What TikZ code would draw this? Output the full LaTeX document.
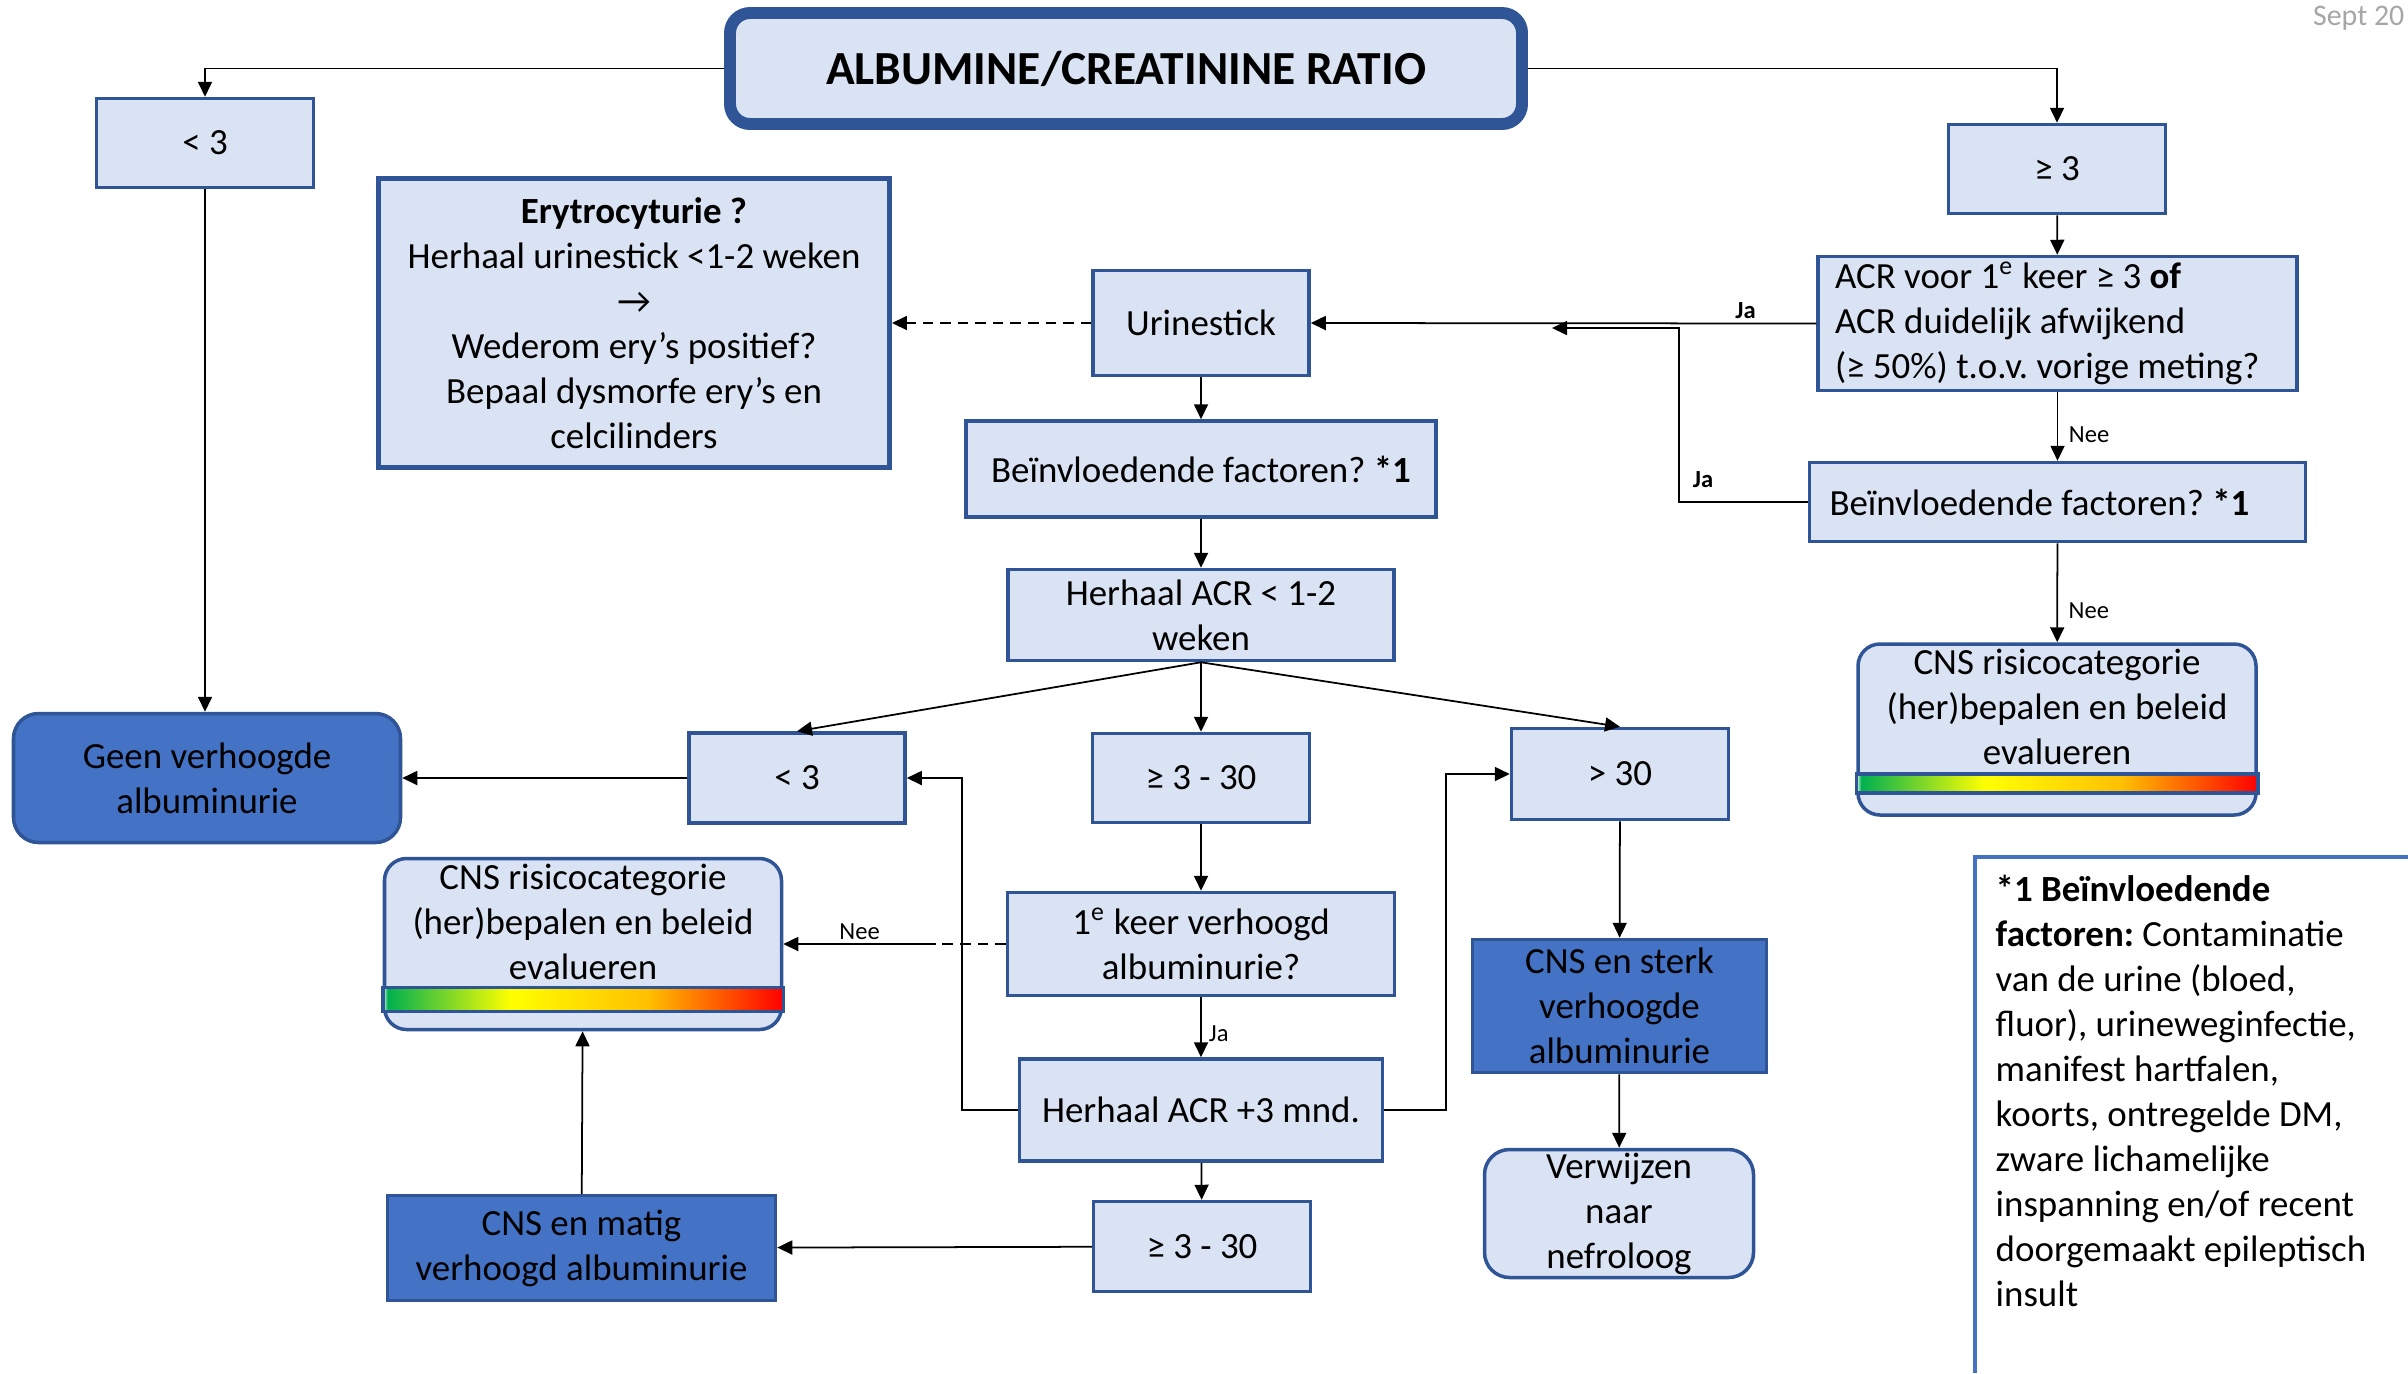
\documentclass[tikz,border=0pt]{standalone}
\usepackage{fontspec}
\setmainfont{Carlito}
\frenchspacing
\usetikzlibrary{arrows.meta,calc}
\definecolor{boxfill}{HTML}{DAE3F3}
\definecolor{boxline}{HTML}{2F5597}
\definecolor{darkfill}{HTML}{4472C4}
\definecolor{legline}{HTML}{4472C4}
\definecolor{datagrey}{HTML}{A6A6A6}
\definecolor{riskgreen}{HTML}{00B050}
\definecolor{riskorange}{HTML}{FFC000}
\pgfdeclarehorizontalshading{riskbar}{100bp}{color(0bp)=(white); color(25bp)=(white); color(25.6bp)=(riskgreen); color(41bp)=(yellow); color(58bp)=(riskorange); color(75bp)=(red); color(100bp)=(red)}

\begin{document}
\begin{tikzpicture}[
	box/.style={shape=rectangle, draw=boxline, fill=boxfill, line width=1pt, inner sep=0pt, align=center, font=\fontsize{10.5}{12.8}\selectfont},
	rbox/.style={box, rounded corners=0.22cm},
	dbox/.style={box, fill=darkfill},
	txt/.style={inner sep=0pt, align=center, font=\fontsize{10.5}{12.8}\selectfont},
	arr/.style={-{Triangle[length=1.5mm,width=1.4mm]}, line width=0.5pt},
	lbl/.style={inner sep=1pt, font=\fontsize{7}{8}\selectfont},
	lblb/.style={inner sep=1pt, font=\fontsize{7}{8}\selectfont\bfseries},
	bar/.style={shading=riskbar, draw=boxline, line width=1pt}
	]
	\useasboundingbox (0,0) rectangle (24.08,-13.73);

	\node[box, line width=3.4pt, rounded corners=0.2cm, minimum width=7.92cm, minimum height=1.11cm, font=\fontsize{13.5}{16}\selectfont\bfseries] (title) at (11.26,-0.685) {ALBUMINE/CREATININE RATIO};
	\node[anchor=north east, inner sep=0pt, text=datagrey, font=\fontsize{8.5}{10}\selectfont] (datum) at (24.05,-0.05) {Sept 20};

	\node[box, minimum width=2.17cm, minimum height=0.89cm] (lt3) at (2.05,-1.43) {< 3};
	\node[box, minimum width=2.17cm, minimum height=0.89cm] (ge3) at (20.57,-1.69) {≥ 3};
	\node[box, align=flush left, text width=4.45cm, inner xsep=0.17cm, minimum height=1.34cm] (acr) at (20.575,-3.235) {ACR voor 1\textsuperscript{e} keer ≥ 3 \textbf{of}\\ACR duidelijk afwijkend\\(≥ 50\%) t.o.v. vorige meting?};
	\node[box, align=flush left, text width=4.56cm, inner xsep=0.2cm, minimum height=0.79cm] (beiR) at (20.575,-5.02) {Beïnvloedende factoren? \textbf{*1}};
	\node[rbox, minimum width=3.98cm, minimum height=1.71cm] (cnsR) at (20.57,-7.295) {};
	\node[txt] (cnsRtxt) at ($(cnsR.north)+(0,-0.65)$) {CNS risicocategorie\\(her)bepalen en beleid\\evalueren};
	\shadedraw[bar] ($(cnsR.south west)+(0,0.24)$) rectangle ($(cnsR.south east)+(0,0.43)$);

	\node[box, line width=1.4pt, minimum width=5.11cm, minimum height=2.89cm] (erytro) at (6.34,-3.23) {\textbf{Erytrocyturie ?}\\Herhaal urinestick <1-2 weken\\→\\Wederom ery’s positief?\\Bepaal dysmorfe ery’s en\\celcilinders};
	\node[box, minimum width=2.16cm, minimum height=1.05cm] (urine) at (12.01,-3.23) {Urinestick};
	\node[box, minimum width=4.70cm, minimum height=0.96cm] (beiM) at (12.01,-4.69) {Beïnvloedende factoren? \textbf{*1}};
	\node[box, minimum width=3.86cm, minimum height=0.91cm] (herh1) at (12.01,-6.15) {Herhaal ACR < 1-2\\weken};

	\node[dbox, rounded corners=0.25cm, minimum width=3.87cm, minimum height=1.29cm] (geen) at (2.07,-7.78) {Geen verhoogde\\albuminurie};
	\node[box, minimum width=2.16cm, minimum height=0.90cm] (lt3m) at (7.97,-7.78) {< 3};
	\node[box, minimum width=2.17cm, minimum height=0.89cm] (ge3a) at (12.01,-7.78) {≥ 3 - 30};
	\node[box, minimum width=2.17cm, minimum height=0.91cm] (gt30) at (16.20,-7.74) {> 30};

	\node[rbox, minimum width=3.97cm, minimum height=1.71cm] (cnsL) at (5.83,-9.44) {};
	\node[txt] (cnsLtxt) at ($(cnsL.north)+(0,-0.65)$) {CNS risicocategorie\\(her)bepalen en beleid\\evalueren};
	\shadedraw[bar] ($(cnsL.south west)+(0,0.20)$) rectangle ($(cnsL.south east)+(0,0.44)$);

	\node[box, minimum width=3.87cm, minimum height=1.03cm] (keer1) at (12.01,-9.44) {1\textsuperscript{e} keer verhoogd\\albuminurie?};
	\node[box, minimum width=3.63cm, minimum height=1.02cm] (herh3) at (12.01,-11.10) {Herhaal ACR +3 mnd.};
	\node[box, minimum width=2.17cm, minimum height=0.90cm] (ge3b) at (12.02,-12.465) {≥ 3 - 30};
	\node[dbox, minimum width=2.94cm, minimum height=1.33cm] (sterk) at (16.195,-10.06) {CNS en sterk\\verhoogde\\albuminurie};
	\node[rbox, rounded corners=0.25cm, minimum width=2.69cm, minimum height=1.28cm] (verw) at (16.19,-12.135) {Verwijzen\\naar\\nefroloog};
	\node[dbox, minimum width=3.88cm, minimum height=1.05cm] (matig) at (5.815,-12.48) {CNS en matig\\verhoogd albuminurie};

	\draw[legline, line width=1.2pt] (24.08,-8.57) -| (19.75,-13.73);
	\node[txt, anchor=north west, align=flush left] (legend) at (19.95,-8.745) {\textbf{*1 Beïnvloedende}\\\textbf{factoren:} Contaminatie\\van de urine (bloed,\\fluor), urineweginfectie,\\manifest hartfalen,\\koorts, ontregelde DM,\\zware lichamelijke\\inspanning en/of recent\\doorgemaakt epileptisch\\insult};

	\coordinate (jaend) at (15.52,-3.28);
	\coordinate (neeturn) at (9.36,-9.44);

	\draw[arr] (title.west) -| (lt3.north);
	\draw[arr] (title.east) -| (ge3.north);
	\draw[arr] (ge3) -- (acr);
	\draw[arr] (acr.west) -- node[lblb, above, pos=0.14] (jaA) {Ja} (urine.east);
	\draw[arr] (acr) -- node[lbl, right=2pt, pos=0.62] (neeA) {Nee} (beiR);
	\draw[arr] (beiR.west) -| (16.79,-3.28) -- (jaend);
	\node[lblb] (jaB) at (17.03,-4.80) {Ja};
	\draw[arr] (beiR) -- node[lbl, right=2pt, pos=0.68] (neeR) {Nee} (cnsR);
	\draw[arr, densely dashed] (urine.west) -- (erytro.east);
	\draw[arr] (urine) -- (beiM);
	\draw[arr] (beiM) -- (herh1);
	\draw[arr] (herh1.south) -- (lt3m.north);
	\draw[arr] (herh1.south) -- (ge3a.north);
	\draw[arr] (herh1.south) -- (gt30.north);
	\draw[arr] (lt3.south) -- (lt3.south |- geen.north);
	\draw[arr] (lt3m) -- (geen);
	\draw[arr] (ge3a) -- (keer1);
	\draw[densely dashed, line width=0.5pt] (keer1.west) -- (neeturn);
	\draw[arr] (neeturn) -- node[lbl, above] (neeL) {Nee} (cnsL.east);
	\draw[arr] (keer1) -- node[lbl, right=1pt, pos=0.6] (jaC) {Ja} (herh3);
	\draw[arr] (herh3.west) -- ++(-0.56,0) |- (lt3m.east);
	\draw[arr] (herh3.east) -- ++(0.62,0) |- (gt30.west);
	\draw[arr] (herh3) -- (ge3b);
	\draw[arr] (ge3b) -- (matig);
	\draw[arr] (matig) -- (cnsL);
	\draw[arr] (gt30) -- (sterk);
	\draw[arr] (sterk) -- (verw);

\end{tikzpicture}
\end{document}
